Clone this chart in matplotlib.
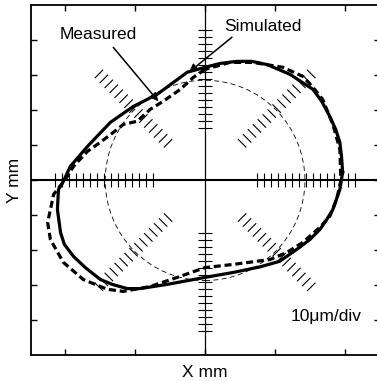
import numpy as np
import matplotlib.pyplot as plt
from matplotlib.patches import Circle
from matplotlib.collections import LineCollection

plt.rcParams['font.family'] = ['Liberation Sans', 'DejaVu Sans']

# Simulated profile (x, y in divisions)
sim_x = [3.94, 3.91, 3.86, 3.74, 3.57, 3.34, 3.09, 2.43, 1.77, 1.34, 0.91, 0.43, 0.0,
         -0.51, -1.37, -2.06, -2.71, -3.37, -3.86, -4.06, -4.20, -4.23, -4.14, -4.03,
         -3.77, -3.43, -3.00, -2.66, -2.23, -1.86, -1.09, 0.0, 0.80, 1.57, 2.14, 2.71,
         3.00, 3.29, 3.49, 3.66, 3.86, 3.94]
sim_y = [0.23, 0.66, 1.09, 1.46, 1.83, 2.26, 2.60, 3.03, 3.31, 3.40, 3.40, 3.34, 3.23,
         3.09, 2.46, 2.11, 1.66, 0.97, 0.40, -0.03, -0.26, -0.83, -1.49, -1.83,
         -2.17, -2.49, -2.83, -2.97, -3.09, -3.09, -2.97, -2.77, -2.63, -2.47, -2.31, -1.91,
         -1.69, -1.40, -1.11, -0.83, -0.26, 0.23]

# Measured profile
meas_x = [0.0, -0.34, -0.71, -1.20, -1.57, -1.94, -2.34, -2.63, -3.00, -3.37, -3.77,
          -4.00, -4.34, -4.43, -4.51, -4.43, -4.06, -3.49, -2.80, -2.34, -1.57, -0.80,
          0.0, 0.80, 1.86, 2.34, 2.80, 3.29, 3.57, 3.77, 3.89, 3.86, 3.66, 3.37, 3.09,
          2.80, 2.23, 1.37, 0.71, 0.0]
meas_y = [3.17, 2.94, 2.60, 2.26, 2.03, 1.69, 1.60, 1.37, 1.09, 0.83, 0.40,
          0.03, -0.40, -0.83, -1.20, -1.69, -2.34, -2.83, -3.11, -3.17, -3.03, -2.77,
          -2.49, -2.40, -2.26, -2.06, -1.77, -1.34, -1.03, -0.54, 0.0, 0.89, 1.60, 2.31, 2.66,
          2.97, 3.23, 3.37, 3.37, 3.17]

ref_radius = 2.86
scale_ticks = np.arange(1.5, 4.31, 0.2)

fig = plt.figure(figsize=(3.77, 3.81), dpi=100)
ax = fig.add_axes([0.081, 0.067, 0.926, 0.919])
ax.set_xlim(-5, 5)
ax.set_ylim(-5, 5)

# centre cross
ax.axhline(0, color='black', lw=1.5)
ax.axvline(0, color='black', lw=0.9)

# scale ticks on the cross
for s in (1, -1):
    ax.vlines(s * scale_ticks, -0.2, 0.2, color='black', lw=0.8)
    ax.hlines(s * scale_ticks, -0.2, 0.2, color='black', lw=0.8)

# scale ticks along the diagonals
segs = []
h = 0.17
for dx, dy in [(1, 1), (-1, 1), (-1, -1), (1, -1)]:
    u = np.array([dx, dy]) / np.sqrt(2)
    p = np.array([-u[1], u[0]])
    for r in scale_ticks:
        c = r * u
        segs.append([c - h * p, c + h * p])
ax.add_collection(LineCollection(segs, colors='black', linewidths=0.8))

# reference circle
ax.add_patch(Circle((0, 0), ref_radius, fill=False, ls=(0, (6, 4)), lw=0.6, color='black'))

ax.plot(meas_x, meas_y, color='black', lw=2.3, ls=(0, (2.2, 1.2)))
ax.plot(sim_x, sim_y, color='black', lw=2.3, solid_joinstyle='round')

ap = dict(arrowstyle='-|>', color='black', lw=1.1, mutation_scale=12, shrinkA=0, shrinkB=0)
ax.annotate('', xy=(-1.34, 2.26), xytext=(-2.63, 3.80), arrowprops=ap)
ax.annotate('', xy=(-0.46, 3.09), xytext=(0.77, 4.09), arrowprops=ap)
ax.text(-3.06, 4.17, 'Measured', fontsize=12.5, ha='center', va='center')
ax.text(1.66, 4.40, 'Simulated', fontsize=12.5, ha='center', va='center')
ax.text(3.46, -3.89, '10\u03bcm/div', fontsize=12.5, ha='center', va='center')

ax.set_xticks([-4, -2, 0, 2, 4])
ax.set_yticks([-4, -3, -2, -1, 0, 1, 2, 3, 4])
ax.tick_params(direction='in', top=True, right=True, length=4, width=1,
               labelbottom=False, labelleft=False)
for sp in ax.spines.values():
    sp.set_linewidth(1.3)
ax.set_xlabel('X mm', fontsize=12.5, labelpad=7)
ax.set_ylabel('Y mm', fontsize=12.5, labelpad=6)

fig.savefig('out.png', dpi=100)
